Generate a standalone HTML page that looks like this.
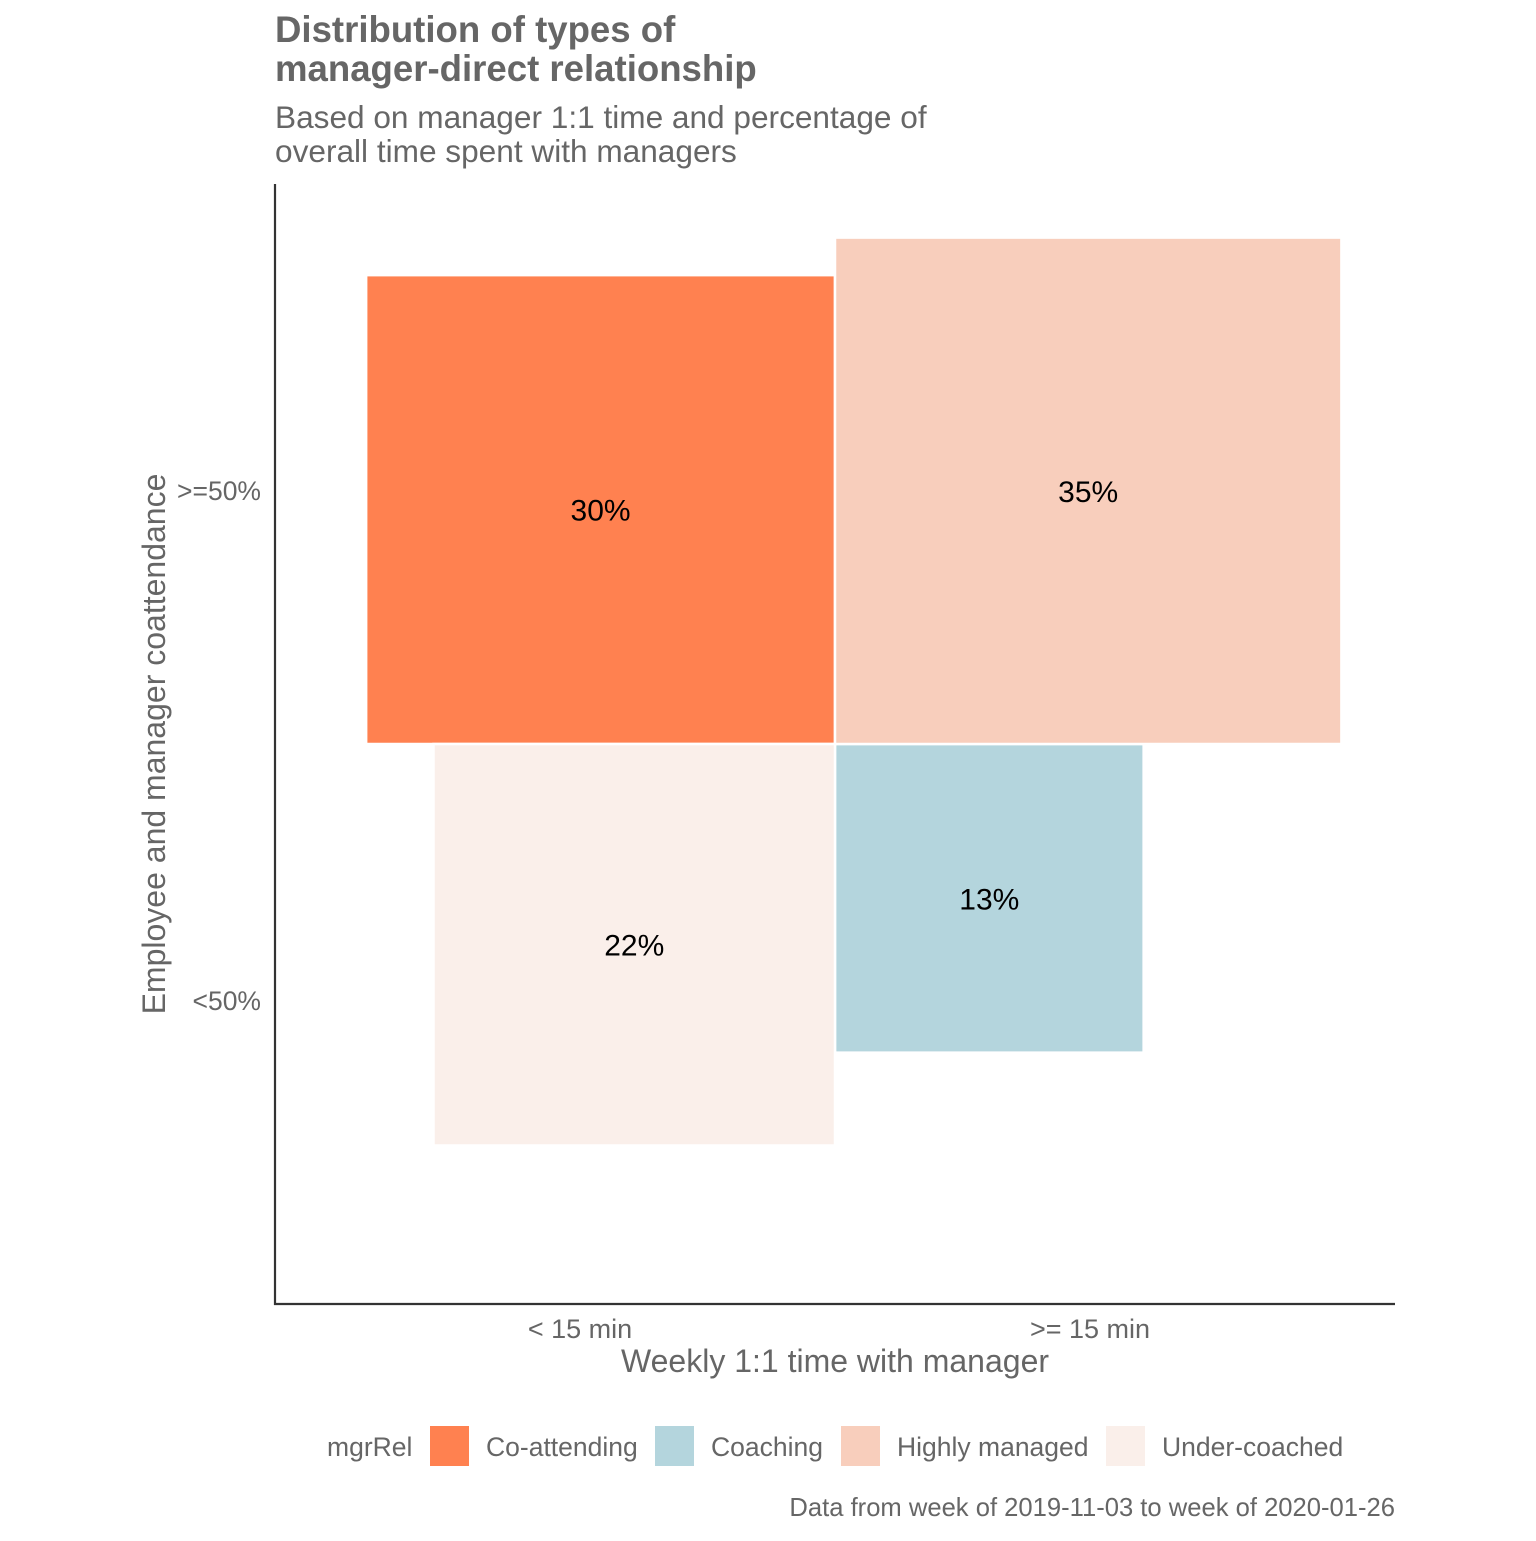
<!DOCTYPE html>
<html><head><meta charset="utf-8"><style>
html,body{margin:0;padding:0;background:#fff;}
svg text{font-family:"Liberation Sans",sans-serif;}
</style></head><body>
<svg id="chart" width="1536" height="1536" viewBox="0 0 1536 1536" xmlns="http://www.w3.org/2000/svg">
<text x="275" y="42" font-size="36.6" font-weight="bold" fill="#666">Distribution of types of</text>
<text x="275" y="81" font-size="36.6" font-weight="bold" fill="#666">manager-direct relationship</text>
<text x="275" y="128" font-size="31.6" fill="#666">Based on manager 1:1 time and percentage of</text>
<text x="275" y="162" font-size="31.6" fill="#666">overall time spent with managers</text>
<g id="tiles"></g>
<line x1="275" y1="184" x2="275" y2="1305" stroke="#333" stroke-width="2.2"/>
<line x1="274" y1="1304" x2="1395" y2="1304" stroke="#333" stroke-width="2.2"/>
<g id="ticks"></g>
<text x="835" y="1372" font-size="32" fill="#666" text-anchor="middle">Weekly 1:1 time with manager</text>
<text transform="translate(165,744) rotate(-90)" font-size="32" fill="#666" text-anchor="middle">Employee and manager coattendance</text>
<g id="legend">
<text x="327" y="1456" font-size="26.5" fill="#666">mgrRel</text>
</g>
<text x="1395" y="1516" font-size="25.6" fill="#666" text-anchor="end">Data from week of 2019-11-03 to week of 2020-01-26</text>
</svg>
<script>
const categories = ["Co-attending","Coaching","Highly managed","Under-coached"];
const xCats = ["< 15 min", ">= 15 min"];
const yCats = [">=50%", "<50%"];
const values = [30, 13, 35, 22];
const xIdx = [0, 1, 1, 0];
const yIdx = [0, 1, 0, 1];
const colors = ["#FF8150","#B4D5DD","#F8CEBC","#FAEFEA"];

const svg = document.getElementById('chart');
const NS = "http://www.w3.org/2000/svg";
const cx = 835, cy = 744, k = 85.6;
function xPos(i){ return [580, 1090][i]; }
function yPos(i){ return [491, 1001][i]; }
function side(v){ return k * Math.sqrt(v); }

const tg = document.getElementById('tiles');
values.forEach((v, i) => {
  const s = side(v);
  const x = xIdx[i] === 0 ? cx - s : cx;
  const y = yIdx[i] === 0 ? cy - s : cy;
  const r = document.createElementNS(NS, 'rect');
  r.setAttribute('x', x); r.setAttribute('y', y);
  r.setAttribute('width', s); r.setAttribute('height', s);
  r.setAttribute('fill', colors[i]); r.setAttribute('stroke', '#fff'); r.setAttribute('stroke-width', '2.5');
  
  
  tg.appendChild(r);
  const t = document.createElementNS(NS, 'text');
  t.setAttribute('x', x + s / 2); t.setAttribute('y', y + s / 2 + 11);
  t.setAttribute('font-size', '30'); t.setAttribute('text-anchor', 'middle'); t.setAttribute('fill', '#000');
  t.textContent = v + '%';
  
  
  tg.appendChild(t);
});

const tk = document.getElementById('ticks');
xCats.forEach((c, i) => {
  const t = document.createElementNS(NS, 'text');
  t.setAttribute('x', xPos(i)); t.setAttribute('y', 1338);
  t.setAttribute('font-size', '27'); t.setAttribute('fill', '#666'); t.setAttribute('text-anchor', 'middle');
  t.textContent = c;
  
  
  tk.appendChild(t);
});
yCats.forEach((c, i) => {
  const t = document.createElementNS(NS, 'text');
  t.setAttribute('x', 261); t.setAttribute('y', yPos(i) + 9);
  t.setAttribute('font-size', '26.5'); t.setAttribute('fill', '#666'); t.setAttribute('text-anchor', 'end');
  t.textContent = c;
  
  
  tk.appendChild(t);
});

const lg = document.getElementById('legend');
const keyX = [430, 655, 841, 1106];
categories.forEach((c, i) => {
  const r = document.createElementNS(NS, 'rect');
  r.setAttribute('x', keyX[i]); r.setAttribute('y', 1426);
  r.setAttribute('width', 39); r.setAttribute('height', 40);
  r.setAttribute('fill', colors[i]);
  
  
  lg.appendChild(r);
  const t = document.createElementNS(NS, 'text');
  t.setAttribute('x', keyX[i] + 56); t.setAttribute('y', 1456);
  t.setAttribute('font-size', '26.5'); t.setAttribute('fill', '#666');
  t.textContent = c;
  
  
  lg.appendChild(t);
});
</script>
</body></html>
